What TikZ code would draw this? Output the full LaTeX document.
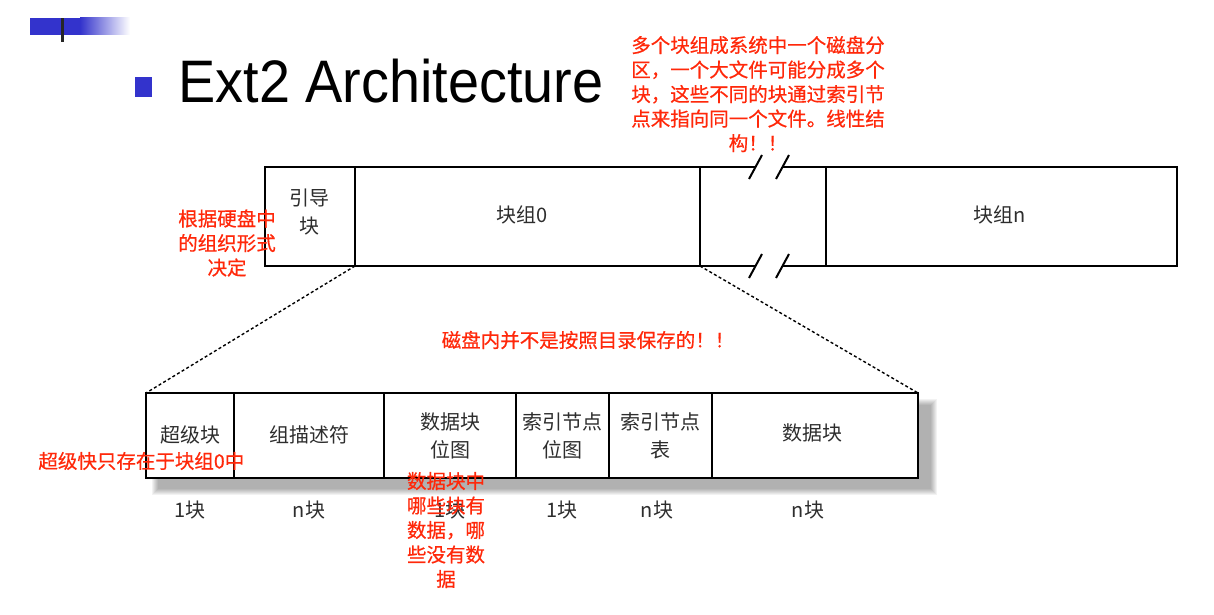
\documentclass[tikz,border=0pt]{standalone}
\usepackage{fontspec}
\setmainfont{Liberation Sans}
\newfontfamily\cjk{Noto Sans CJK SC}
\newfontfamily\cjknote[FakeBold=0.6]{Noto Sans CJK SC}
\definecolor{slideblue}{RGB}{51,51,204}
\definecolor{noteRed}{RGB}{255,40,10}
\definecolor{boxText}{RGB}{45,45,45}
\begin{document}
\begin{tikzpicture}[x=0.5pt,y=-0.5pt,
  frame/.style={line width=1pt,draw=black},
  celltext/.style={font=\cjk\fontsize{10}{14}\selectfont,text=boxText,align=center,inner sep=0pt},
  note/.style={font=\cjknote\fontsize{9.75}{12.25}\selectfont,text=noteRed,align=center,inner sep=0pt},
  zoomline/.style={line width=0.7pt,dash pattern=on 1.5pt off 1.2pt},
  breakmark/.style={line width=1pt},
  ]
\useasboundingbox (0,0) rectangle (1214,615);

% slide header ornament
\fill[slideblue] (30,18) rectangle (80,35);
\shade[left color=slideblue,right color=white] (80,18) rectangle (130,35);
\fill[black!85] (61,18) rectangle (64,42);

% title with bullet
\fill[slideblue] (135,77) rectangle (152,97);
\node[anchor=base west,inner sep=0pt,font=\fontsize{30}{36}\selectfont] (title) at (178,103)
  {\scalebox{0.93}[1]{Ext2 Architecture}};

% ---- partition: boot block + block groups ----
\coordinate (pTL) at (265,167);
\coordinate (pBL) at (265,266);
\draw[frame] (755,167) -- (pTL) -- (pBL) -- (755,266);
\draw[frame] (782,167) -- (1177,167) -- (1177,266) -- (782,266);
\draw[frame] (355,167) -- (355,266) coordinate (g0L);
\draw[frame] (700,167) -- (700,266) coordinate (g0R);
\draw[frame] (826,167) -- (826,266);
% break marks
\draw[breakmark] (749,179) -- (762,155);
\draw[breakmark] (776,179) -- (789,155);
\draw[breakmark] (749,278) -- (762,254);
\draw[breakmark] (776,278) -- (789,254);

\node[celltext] (boot) at (309,212) {引导\\块};
\node[celltext] (grp0) at (522,215) {块组0};
\node[celltext] (grpn) at (1000,215) {块组n};

% ---- block group detail ----
\foreach \k in {0,...,6}
  \fill[black,opacity=0.05] ({152+\k},{399+\k}) rectangle ({937-\k},{495-\k});
\fill[white] (146,393) rectangle (918,478);
\draw[line width=0.9pt] (146,393) coordinate (dTL) rectangle (918,478);
\coordinate (dTR) at (918,393);
\foreach \x in {234,384,516,609,712}
  \draw[line width=0.9pt] (\x,393) -- (\x,478);

\draw[zoomline] (g0L) -- (dTL);
\draw[zoomline] (g0R) -- (dTR);

\node[celltext] (sb)  at (190,435) {超级块};
\node[celltext] (gd)  at (309,435) {组描述符};
\node[celltext] (dbm) at (450,436) {数据块\\位图};
\node[celltext] (ibm) at (562,436) {索引节点\\位图};
\node[celltext] (itb) at (660,436) {索引节点\\表};
\node[celltext] (dat) at (812,433) {数据块};

\node[celltext] (nsb)  at (190,510) {1块};
\node[celltext] (ngd)  at (309,510) {n块};
\node[celltext] (ndbm) at (450,510) {1块};
\node[celltext] (nibm) at (562,510) {1块};
\node[celltext] (nitb) at (657,510) {n块};
\node[celltext] (ndat) at (808,510) {n块};

% ---- annotations ----
\node[note] (nTop) at (758,94) {多个块组成系统中一个磁盘分\\区，一个大文件可能分成多个\\块，这些不同的块通过索引节\\点来指向同一个文件。线性结\\构！！};
\node[note] (nBoot) at (227,243) {根据硬盘中\\的组织形式\\决定};
\node[note] (nDir) at (588,340) {磁盘内并不是按照目录保存的！！};
\node[note,anchor=west] (nSb) at (38,461) {超级快只存在于块组0中};
\node[note] (nDbm) at (446,530) {数据块中\\哪些块有\\数据，哪\\些没有数\\据};
\end{tikzpicture}
\end{document}
